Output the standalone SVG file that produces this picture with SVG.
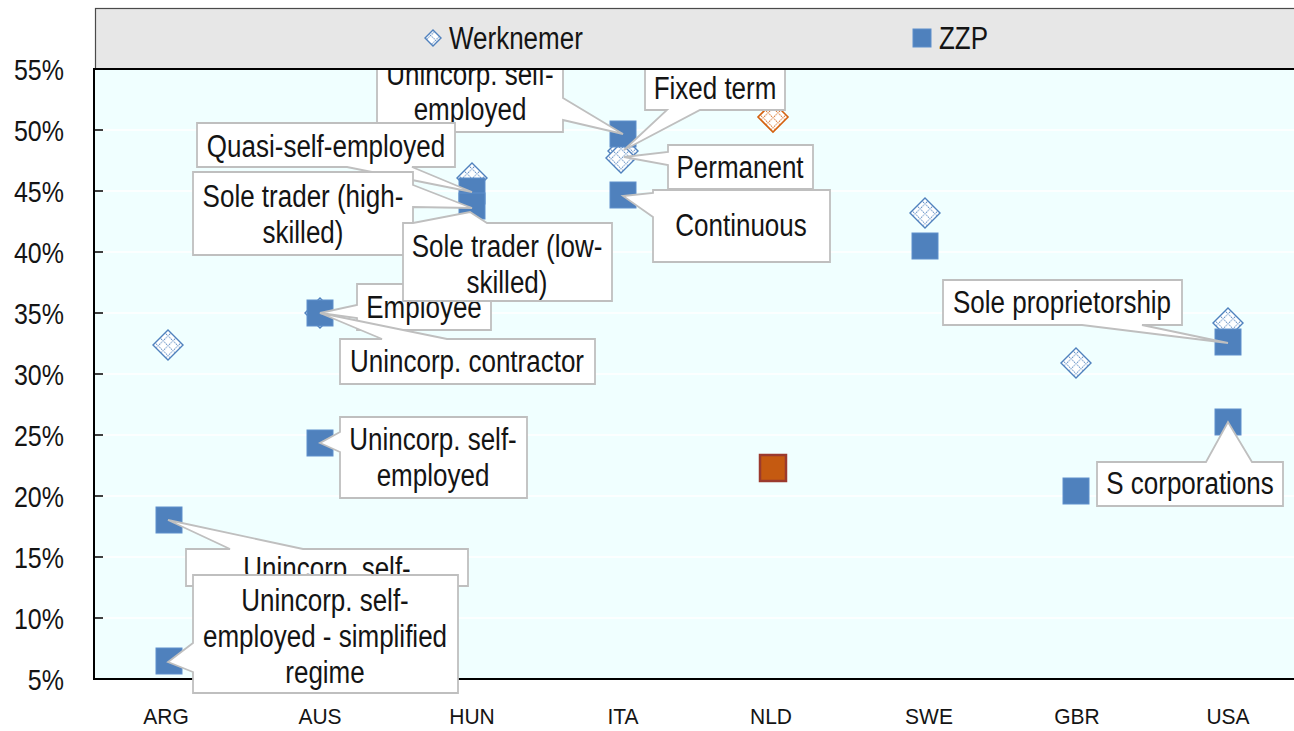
<svg xmlns="http://www.w3.org/2000/svg" xmlns:xlink="http://www.w3.org/1999/xlink" width="1294" height="731" viewBox="0 0 1294 731">
<style>
.t{font-family:"Liberation Sans",Arial,sans-serif;font-size:26px;fill:#141414}
.ax{font-family:"Liberation Sans",Arial,sans-serif;font-size:25px;fill:#141414;text-anchor:end}
.xl{font-family:"Liberation Sans",Arial,sans-serif;font-size:21px;fill:#141414;text-anchor:middle}
.c{fill:#fff;stroke:#BFBFBF;stroke-width:1.8;stroke-linejoin:miter}
.mid{text-anchor:middle}
.grid{stroke:#fff;stroke-width:1.5}
.wk{fill:url(#pb);stroke:#4F81BD;stroke-width:1.4}
.wko{fill:url(#po);stroke:#D4610F;stroke-width:1.6}
.zz{fill:#4F81BD;stroke:#5F8FCB;stroke-width:1}
.zzo{fill:#C55A11;stroke:#9B3A2E;stroke-width:2.5}
</style>
<defs>
<pattern id="pb" width="7" height="7" patternUnits="userSpaceOnUse" patternTransform="rotate(45)">
<rect width="7" height="7" fill="#fff"/>
<path d="M0 0.5H7M0.5 0V7" stroke="#4F81BD" stroke-width="1.2" stroke-dasharray="1.2 1.2"/>
</pattern>
<pattern id="po" width="7" height="7" patternUnits="userSpaceOnUse" patternTransform="rotate(45)">
<rect width="7" height="7" fill="#fff"/>
<path d="M0 0.5H7M0.5 0V7" stroke="#D4610F" stroke-width="1.2" stroke-dasharray="1.2 1.2"/>
</pattern>
<path id="dia" d="M0,-15 L15,0 L0,15 L-15,0 Z"/>
<rect id="sq" x="-13" y="-13" width="26" height="26"/>
</defs>

<g id="plot-area">
<rect x="94" y="69" width="1200" height="610" fill="#F0FFFF"/>
<path class="grid" d="M94 130H1294M94 191H1294M94 252H1294M94 313H1294M94 374H1294M94 435H1294M94 496H1294M94 557H1294M94 618H1294"/>
<path d="M94 68V680M93 679H1294" stroke="#000" stroke-width="2" fill="none"/>
<path d="M94 130H103M94 191H103M94 252H103M94 313H103M94 374H103M94 435H103M94 496H103M94 557H103M94 618H103" stroke="#000" stroke-width="1.5"/>
</g>

<g id="y-axis">
<text class="ax" transform="translate(64,80) scale(1,1.2)">55%</text>
<text class="ax" transform="translate(64,141) scale(1,1.2)">50%</text>
<text class="ax" transform="translate(64,202) scale(1,1.2)">45%</text>
<text class="ax" transform="translate(64,263) scale(1,1.2)">40%</text>
<text class="ax" transform="translate(64,324) scale(1,1.2)">35%</text>
<text class="ax" transform="translate(64,385) scale(1,1.2)">30%</text>
<text class="ax" transform="translate(64,446) scale(1,1.2)">25%</text>
<text class="ax" transform="translate(64,507) scale(1,1.2)">20%</text>
<text class="ax" transform="translate(64,568) scale(1,1.2)">15%</text>
<text class="ax" transform="translate(64,629) scale(1,1.2)">10%</text>
<text class="ax" transform="translate(64,690) scale(1,1.2)">5%</text>
</g>

<g id="x-axis">
<text class="xl" transform="translate(166,724) scale(1,1.08)">ARG</text>
<text class="xl" transform="translate(320,724) scale(1,1.08)">AUS</text>
<text class="xl" transform="translate(472,724) scale(1,1.08)">HUN</text>
<text class="xl" transform="translate(623,724) scale(1,1.08)">ITA</text>
<text class="xl" transform="translate(771,724) scale(1,1.08)">NLD</text>
<text class="xl" transform="translate(929,724) scale(1,1.08)">SWE</text>
<text class="xl" transform="translate(1077,724) scale(1,1.08)">GBR</text>
<text class="xl" transform="translate(1228,724) scale(1,1.08)">USA</text>
</g>

<g id="series-werknemer">
<use href="#dia" x="168" y="345" class="wk"/>
<use href="#dia" x="320" y="313" class="wk"/>
<use href="#dia" x="472" y="178" class="wk"/>
<use href="#dia" x="623" y="151" class="wk"/>
<use href="#dia" x="621" y="158" class="wk"/>
<use href="#dia" x="773" y="117" class="wko"/>
<use href="#dia" x="925" y="213" class="wk"/>
<use href="#dia" x="1076" y="363" class="wk"/>
<use href="#dia" x="1228" y="323" class="wk"/>
</g>

<g id="series-zzp">
<use href="#sq" x="169" y="520" class="zz"/>
<use href="#sq" x="169" y="661" class="zz"/>
<use href="#sq" x="320" y="313" class="zz"/>
<use href="#sq" x="320" y="443" class="zz"/>
<use href="#sq" x="472" y="191" class="zz"/>
<use href="#sq" x="472" y="206" class="zz"/>
<use href="#sq" x="623" y="134" class="zz"/>
<use href="#sq" x="623" y="195" class="zz"/>
<use href="#sq" x="773" y="468" class="zzo"/>
<use href="#sq" x="925" y="246" class="zz"/>
<use href="#sq" x="1076" y="491" class="zz"/>
<use href="#sq" x="1228" y="342" class="zz"/>
<use href="#sq" x="1228" y="422" class="zz"/>
</g>

<g id="connectors">
<g id="lbl-ita-unincorp">
<path class="c" d="M377,50 H563 V98 L623,134 L563,120 V132 H377 Z"/>
<text class="t mid" transform="translate(470,85) scale(1,1.2)"><tspan x="0">Unincorp. self-</tspan><tspan x="0" dy="29.5">employed</tspan></text>
</g>
<g id="lbl-fixed">
<path class="c" d="M645,68 H785 V110 H700 L624,150 L667,110 H645 Z"/>
<text class="t mid" transform="translate(715,99) scale(1,1.2)">Fixed term</text>
</g>
<g id="lbl-permanent">
<path class="c" d="M668,145 H813 V189 H668 V165 L624,157 L668,152 Z"/>
<text class="t mid" transform="translate(740,178) scale(1,1.2)">Permanent</text>
</g>
<g id="lbl-continuous">
<path class="c" d="M653,190 H830 V262 H653 V217 L623,196 L653,193 Z"/>
<text class="t mid" transform="translate(741,236) scale(1,1.2)">Continuous</text>
</g>
<g id="lbl-employee">
<path class="c" d="M357,284 H491 V330 H357 V318 L320,313 L357,305 Z"/>
<text class="t mid" transform="translate(424,318) scale(1,1.2)">Employee</text>
</g>
<g id="lbl-quasi">
<path class="c" d="M197,123 H455 V167 H412 L472,192 L347,167 H197 Z"/>
<text class="t mid" transform="translate(326,157) scale(1,1.2)">Quasi-self-employed</text>
</g>
<g id="lbl-high">
<path class="c" d="M193,172 H413 V185 L472,208 L413,207 V255 H193 Z"/>
<text class="t mid" transform="translate(303,207) scale(1,1.2)"><tspan x="0">Sole trader (high-</tspan><tspan x="0" dy="30">skilled)</tspan></text>
</g>
<g id="lbl-low">
<path class="c" d="M403,223 H413 L470,212 L487,223 H612 V301 H403 Z"/>
<text class="t mid" transform="translate(507,257) scale(1,1.2)"><tspan x="0">Sole trader (low-</tspan><tspan x="0" dy="30">skilled)</tspan></text>
</g>
<g id="lbl-contractor">
<path class="c" d="M340,339 H382 L320,313 L447,339 H595 V384 H340 Z"/>
<text class="t mid" transform="translate(467,372) scale(1,1.2)">Unincorp. contractor</text>
</g>
<g id="lbl-aus-unincorp">
<path class="c" d="M340,417 H527 V498 H340 V452 L320,443 L340,432 Z"/>
<text class="t mid" transform="translate(433,450) scale(1,1.2)"><tspan x="0">Unincorp. self-</tspan><tspan x="0" dy="30">employed</tspan></text>
</g>
<g id="lbl-sole-prop">
<path class="c" d="M943,280 H1182 V325 H1142 L1228,343 L1082,325 H943 Z"/>
<text class="t mid" transform="translate(1062,313) scale(1,1.2)">Sole proprietorship</text>
</g>
<g id="lbl-scorp">
<path class="c" d="M1097,462 H1206 L1228,422 L1252,462 H1283 V506 H1097 Z"/>
<text class="t mid" transform="translate(1190,494) scale(1,1.2)">S corporations</text>
</g>
<g id="lbl-arg-unincorp">
<path class="c" d="M186,549 H230 L168,520 L303,549 H468 V586 H186 Z"/>
<text class="t mid" transform="translate(327,579) scale(1,1.2)">Unincorp. self-</text>
</g>
<g id="lbl-arg-simplified">
<path class="c" d="M193,575 H458 V693 H193 V672 L168,662 L193,643 Z"/>
<text class="t mid" transform="translate(325,611) scale(1,1.2)"><tspan x="0">Unincorp. self-</tspan><tspan x="0" dy="30">employed - simplified</tspan><tspan x="0" dy="30">regime</tspan></text>
</g>
</g>

<g id="legend">
<rect x="95.5" y="8.5" width="1210" height="60.5" fill="#E7E7E7" stroke="#4a4a4a" stroke-width="1.2"/>
<path d="M94 69H1294" stroke="#000" stroke-width="2"/>
<path d="M433,30 L441,38 L433,46 L425,38 Z" class="wk"/>
<text class="t" transform="translate(449,49) scale(1,1.2)">Werknemer</text>
<rect x="913" y="29" width="18" height="18" class="zz"/>
<text class="t" transform="translate(939,49) scale(1,1.2)">ZZP</text>
</g>
</svg>
